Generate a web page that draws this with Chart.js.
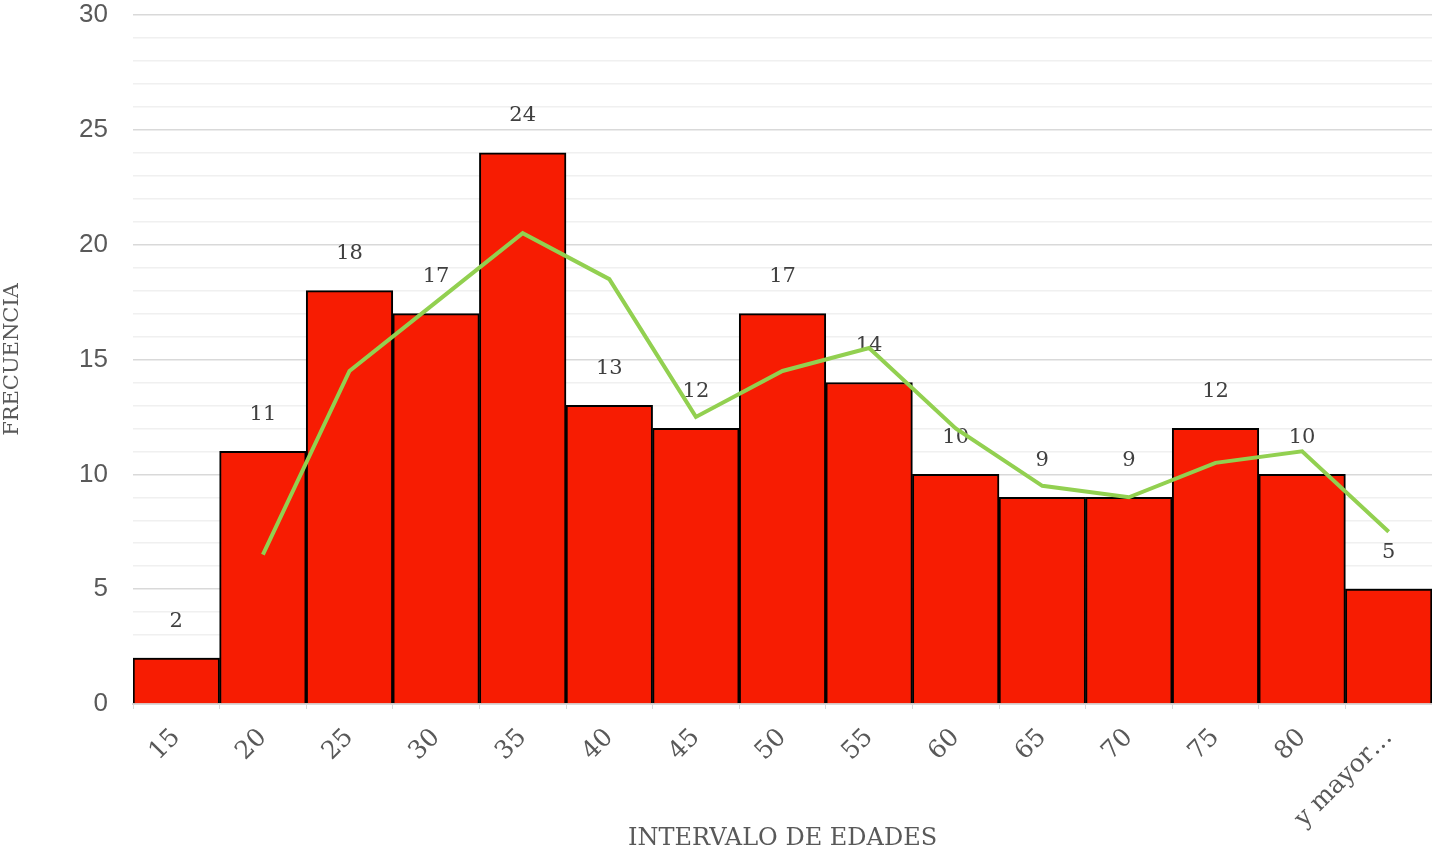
<!DOCTYPE html>
<html>
<head>
    <title>Frecuencia por intervalo de edades</title>
    <script src="https://cdn.jsdelivr.net/npm/chart.js"></script>
    <style>
        html, body { margin: 0; padding: 0; background: #fff; }
        #wrap { width: 1432px; height: 853px; }
    </style>
</head>
<body>
    <div id="wrap">
        <canvas id="histChart"></canvas>
    </div>

    <script>
        const intervalos = ['15', '20', '25', '30', '35', '40', '45', '50', '55', '60', '65', '70', '75', '80', 'y mayor…'];
        const frecuencia = [2, 11, 18, 17, 24, 13, 12, 17, 14, 10, 9, 9, 12, 10, 5];
        // media movil (2 periodos)
        const mediaMovil = [null, 6.5, 14.5, 17.5, 20.5, 18.5, 12.5, 14.5, 15.5, 12, 9.5, 9, 10.5, 11, 7.5];

        // etiquetas encima de cada barra
        const barLabels = {
            id: 'barLabels',
            afterDatasetDraw(chart, args) {
                if (args.index !== 0) return;
                const ctx = chart.ctx;
                ctx.save();
                ctx.font = '21px "DejaVu Serif"';
                ctx.fillStyle = '#404040';
                ctx.textAlign = 'center';
                ctx.textBaseline = 'middle';
                args.meta.data.forEach((bar, i) => {
                    ctx.fillText(frecuencia[i], bar.x, bar.y - 37);
                });
                ctx.restore();
            }
        };

        new Chart(document.getElementById('histChart'), {
            data: {
                labels: intervalos,
                datasets: [{
                    type: 'bar',
                    label: 'Frecuencia',
                    data: frecuencia,
                    backgroundColor: '#f71c02',
                    borderColor: '#000',
                    borderWidth: 2,
                    barPercentage: 1,
                    categoryPercentage: 1,
                    order: 1
                }, {
                    type: 'line',
                    label: 'Media móvil',
                    data: mediaMovil,
                    borderColor: '#92d050',
                    borderWidth: 4,
                    pointRadius: 0,
                    tension: 0,
                    order: 0
                }]
            },
            options: {
                responsive: true,
                maintainAspectRatio: false,
                animation: false,
                layout: { padding: { top: 15, right: 0, bottom: 0, left: 0 } },
                plugins: {
                    legend: { display: false },
                    tooltip: { enabled: false }
                },
                scales: {
                    x: {
                        offset: true,
                        grid: {
                            offset: true,
                            drawOnChartArea: false,
                            color: '#d9d9d9',
                            tickLength: 5
                        },
                        border: { color: '#d9d9d9', width: 2 },
                        ticks: {
                            minRotation: 45,
                            maxRotation: 45,
                            autoSkip: false,
                            color: '#595959',
                            padding: 14,
                            font: { family: 'DejaVu Serif', size: 25 }
                        },
                        title: {
                            display: true,
                            text: 'INTERVALO DE EDADES',
                            color: '#595959',
                            font: { family: 'DejaVu Serif', size: 24 },
                            padding: { top: 0, bottom: 0 }
                        },
                        afterFit: (scale) => { scale.height = 149; }
                    },
                    y: {
                        min: 0,
                        max: 30,
                        grid: {
                            drawTicks: false,
                            lineWidth: 1.5,
                            color: (c) => (c.tick && c.tick.value % 5 === 0) ? '#d9d9d9' : '#f0f0f0'
                        },
                        border: { display: false },
                        ticks: {
                            stepSize: 1,
                            autoSkip: false,
                            padding: 25,
                            color: '#595959',
                            font: { family: 'Liberation Sans', size: 26 },
                            callback: (v) => v % 5 === 0 ? v : ''
                        },
                        title: {
                            display: true,
                            text: 'FRECUENCIA',
                            color: '#595959',
                            font: { family: 'DejaVu Serif', size: 21 },
                            padding: { top: 0, bottom: 0 }
                        },
                        afterFit: (scale) => {
                            scale.width = 133;
                            scale.paddingTop = 0;
                            scale.paddingBottom = 0;
                        }
                    }
                }
            },
            plugins: [barLabels]
        });
    </script>
</body>
</html>
